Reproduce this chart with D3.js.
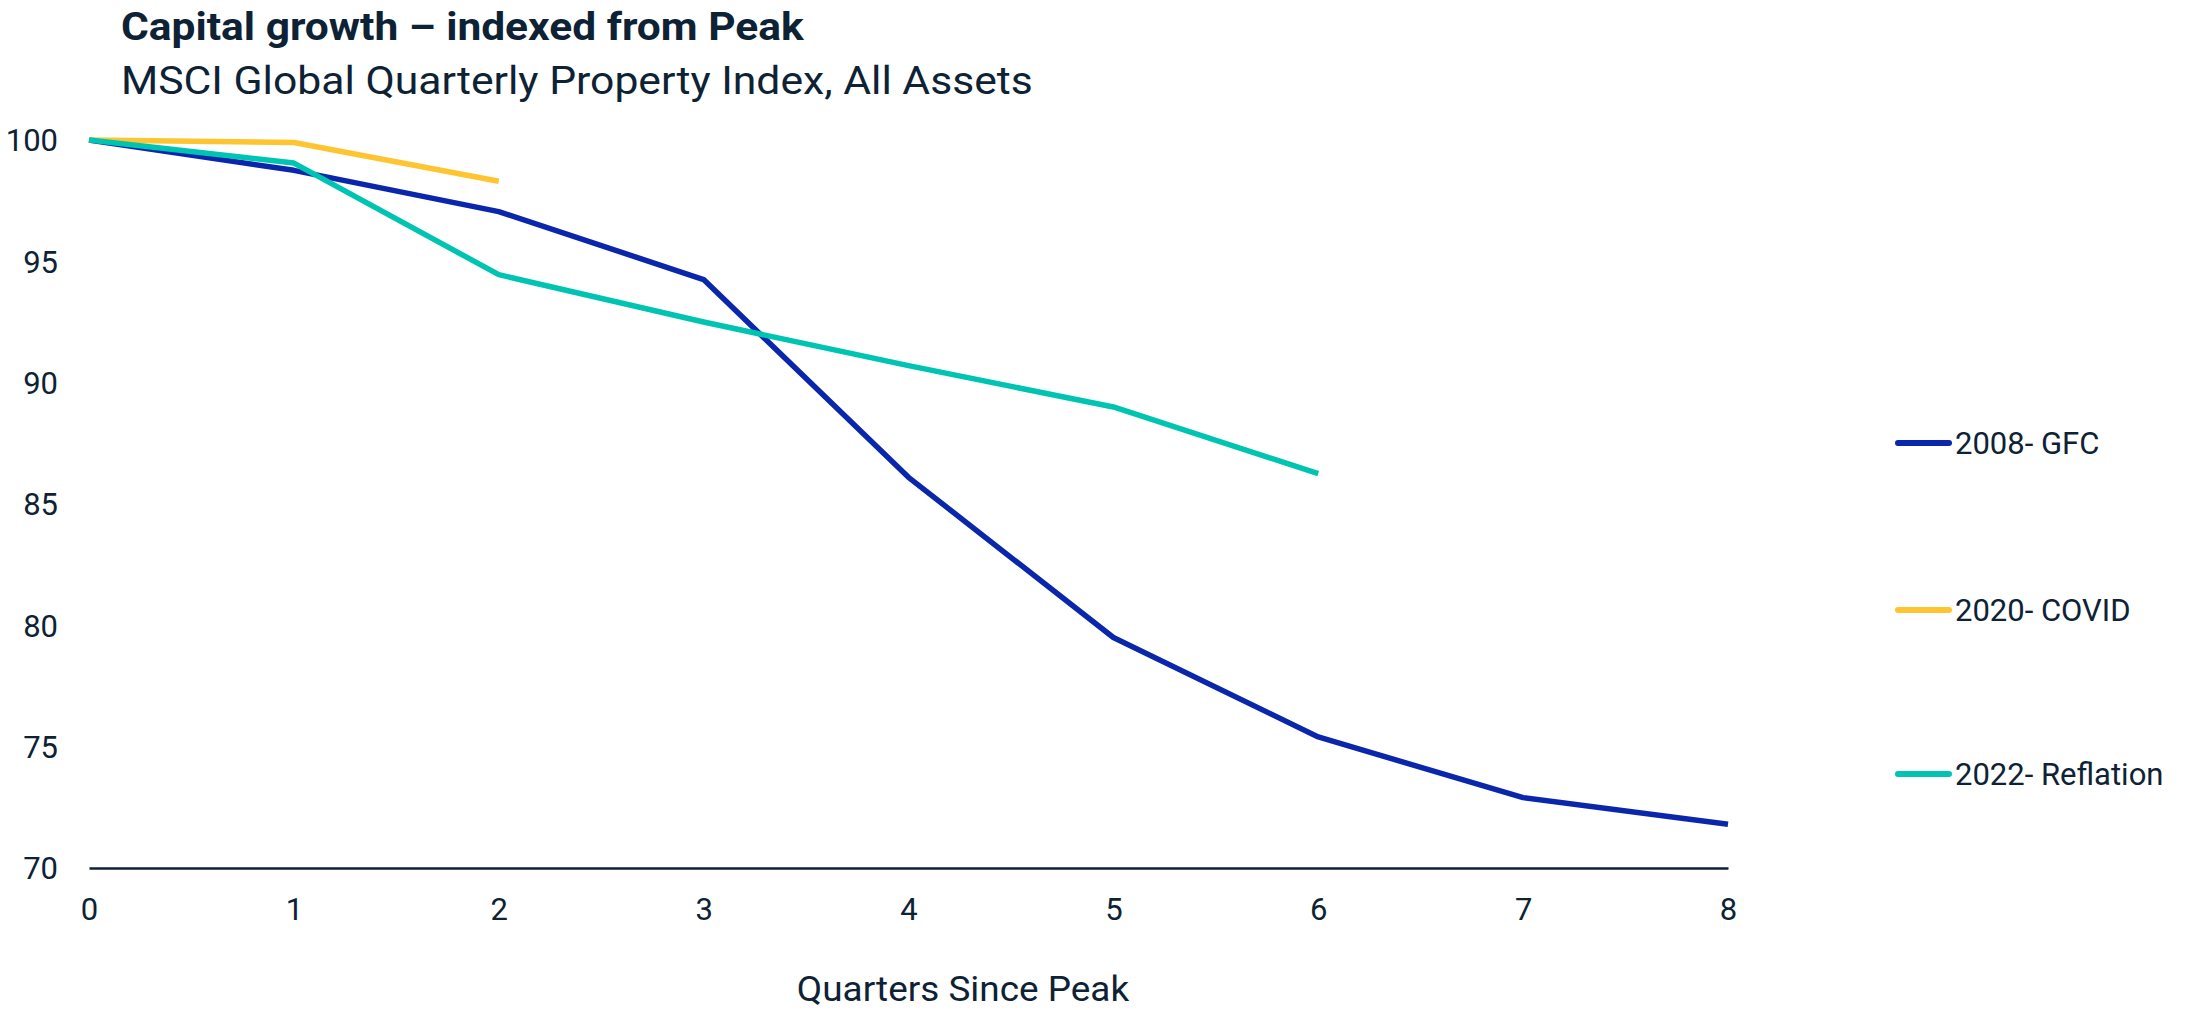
<!DOCTYPE html>
<html>
<head>
<meta charset="utf-8">
<script src="https://cdn.jsdelivr.net/npm/d3@7"></script>
<style>
  html, body { margin: 0; padding: 0; background: #fff; }
  svg { display: block; font-family: Roboto, "Noto Sans", sans-serif; }
</style>
</head>
<body>
<svg id="chart" width="2190" height="1010"></svg>
<script>
// ---- Data ----
const quarters = [0, 1, 2, 3, 4, 5, 6, 7, 8];
const seriesNames = ["2008- GFC", "2020- COVID", "2022- Reflation"];
const gfc = [100, 98.75, 97.05, 94.25, 86.1, 79.5, 75.4, 72.9, 71.8];
const covid = [100, 99.9, 98.3];
const reflation = [100, 99.05, 94.45, 92.5, 90.7, 89.0, 86.25];
const yTicks = [70, 75, 80, 85, 90, 95, 100];
const xTicks = [0, 1, 2, 3, 4, 5, 6, 7, 8];
const colors = ["#0a27ab", "#ffc530", "#00c4b2"];

const titleText = "Capital growth \u2013 indexed from Peak";
const subtitleText = "MSCI Global Quarterly Property Index, All Assets";
const xAxisTitle = "Quarters Since Peak";

// ---- Layout ----
const svg = d3.select("#chart");
const textColor = "#0e2235";
const plotLeft = 89, plotRight = 1728, plotTop = 140, plotBottom = 868;

const x = d3.scaleLinear().domain([0, 8]).range([plotLeft, plotRight]);
const y = d3.scaleLinear().domain([70, 100]).range([plotBottom, plotTop]);

// Title and subtitle
svg.append("text").attr("transform", "translate(121,40) scale(1.09,1)")
  .attr("font-size", 39).attr("font-weight", 700).attr("fill", textColor)
  .text(titleText);
svg.append("text").attr("transform", "translate(121,94) scale(1.08,1)")
  .attr("font-size", 39.5).attr("fill", textColor)
  .text(subtitleText);

// Y axis (labels only)
const yAxis = d3.axisLeft(y).tickValues(yTicks).tickSize(0).tickPadding(0);
const gy = svg.append("g").attr("transform", `translate(58,0)`).call(yAxis);
gy.select(".domain").remove();
gy.selectAll("text").attr("font-size", 31).attr("fill", textColor)
  .attr("font-family", "Roboto, sans-serif").attr("dy", "0.35em");

// X axis
const xAxis = d3.axisBottom(x).tickValues(xTicks).tickSize(0).tickPadding(0).tickFormat(d3.format("d"));
const gx = svg.append("g").attr("transform", `translate(0,${plotBottom})`).call(xAxis);
gx.select(".domain").attr("stroke", textColor).attr("stroke-width", 2.7);
gx.selectAll("text").attr("font-size", 31).attr("fill", textColor)
  .attr("font-family", "Roboto, sans-serif").attr("y", 52).attr("dy", 0);

// X axis title
svg.append("text").attr("transform", "translate(963,1001) scale(1.07,1)").attr("text-anchor", "middle")
  .attr("font-size", 34.5).attr("fill", textColor).text(xAxisTitle);

// Lines
const seriesData = [gfc, covid, reflation];
const line = d3.line().x((d, i) => x(quarters[i])).y(d => y(d));
seriesData.forEach((s, k) => {
  svg.append("path").datum(s)
    .attr("d", line)
    .attr("fill", "none")
    .attr("stroke", colors[k])
    .attr("stroke-width", 5.5)
    .attr("stroke-linejoin", "round")
    .attr("stroke-linecap", "butt");
});

// Legend
const legendY = [443, 610, 774];
seriesNames.forEach((name, k) => {
  const g = svg.append("g").attr("transform", `translate(1895,${legendY[k]})`);
  g.append("line").attr("x1", 3).attr("x2", 54).attr("y1", 0).attr("y2", 0)
    .attr("stroke", colors[k]).attr("stroke-width", 6).attr("stroke-linecap", "round");
  g.append("text").attr("x", 60).attr("y", 0).attr("dy", "0.35em")
    .attr("font-size", 31).attr("fill", textColor).text(name);
});
</script>
</body>
</html>
